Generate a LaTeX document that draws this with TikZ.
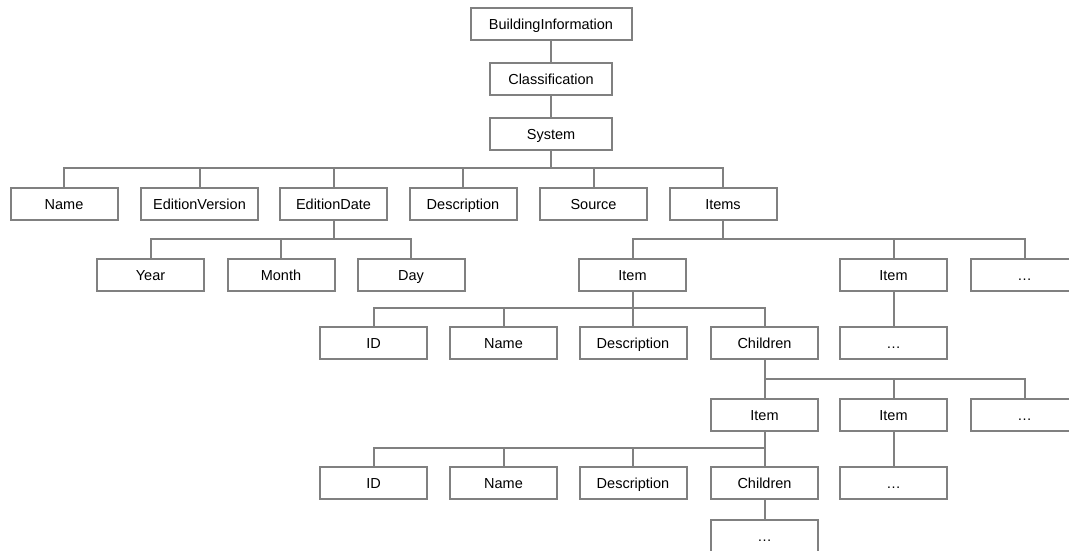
\documentclass[tikz,border=0pt]{standalone}
\usepackage{fontspec}
\setmainfont{Liberation Sans}
\definecolor{linegray}{RGB}{128,128,128}
\begin{document}
\begin{tikzpicture}[x=1pt,y=-1pt,
  box/.style={draw=linegray,line width=2pt,minimum width=107pt,minimum height=32pt,inner sep=0pt,
    text height=13pt,text depth=2.8pt,
    font=\fontsize{14.5}{17}\selectfont,text=black},
  conn/.style={draw=linegray,line width=2pt}]
\useasboundingbox (0,0) rectangle (1069,550);
\node[box,minimum width=161pt] (bi) at (551,24) {BuildingInformation};
\node[box,minimum width=122pt] (cls) at (551,79) {Classification};
\node[box,minimum width=122pt] (sys) at (551,134) {System};
% level 2
\node[box] (name) at (64,204) {Name};
\node[box,minimum width=117pt] (ev) at (199.5,204) {EditionVersion};
\node[box] (ed) at (333.5,204) {EditionDate};
\node[box] (desc) at (463,204) {Description};
\node[box] (src) at (593.5,204) {Source};
\node[box] (items) at (723,204) {Items};
% date
\node[box] (year) at (150.5,275) {Year};
\node[box] (month) at (281,275) {Month};
\node[box] (day) at (411,275) {Day};
% items
\node[box] (it1) at (632.5,275) {Item};
\node[box] (it2) at (893.5,275) {Item};
\node[box] (itd) at (1024.5,275) {…};
% item 1 children
\node[box] (id1) at (373.5,343) {ID};
\node[box] (nm1) at (503.5,343) {Name};
\node[box] (ds1) at (633,343) {Description};
\node[box] (ch1) at (764.5,343) {Children};
\node[box] (it2d) at (893.5,343) {…};
% children items
\node[box] (cit1) at (764.5,415) {Item};
\node[box] (cit2) at (893.5,415) {Item};
\node[box] (citd) at (1024.5,415) {…};
% level 5
\node[box] (id2) at (373.5,483) {ID};
\node[box] (nm2) at (503.5,483) {Name};
\node[box] (ds2) at (633,483) {Description};
\node[box] (ch2) at (764.5,483) {Children};
\node[box] (cit2d) at (893.5,483) {…};
\node[box] (ch2d) at (764.5,536) {…};
% connectors
\draw[conn] (bi) -- (cls);
\draw[conn] (cls) -- (sys);
\foreach \c in {name,ev,ed,desc,src,items}
  \draw[conn] (sys.south) |- ([yshift=19pt]\c.north) -- (\c.north);
\foreach \c in {year,month,day}
  \draw[conn] (ed.south) |- ([yshift=19pt]\c.north) -- (\c.north);
\foreach \c in {it1,it2,itd}
  \draw[conn] (items.south) |- ([yshift=19pt]\c.north) -- (\c.north);
\foreach \c in {id1,nm1,ds1,ch1}
  \draw[conn] (it1.south) |- ([yshift=18pt]\c.north) -- (\c.north);
\draw[conn] (it2) -- (it2d);
\foreach \c in {cit1,cit2,citd}
  \draw[conn] (ch1.south) |- ([yshift=19pt]\c.north) -- (\c.north);
\foreach \c in {id2,nm2,ds2,ch2}
  \draw[conn] (cit1.south) |- ([yshift=18pt]\c.north) -- (\c.north);
\draw[conn] (cit2) -- (cit2d);
\draw[conn] (ch2) -- (ch2d);
\end{tikzpicture}
\end{document}
